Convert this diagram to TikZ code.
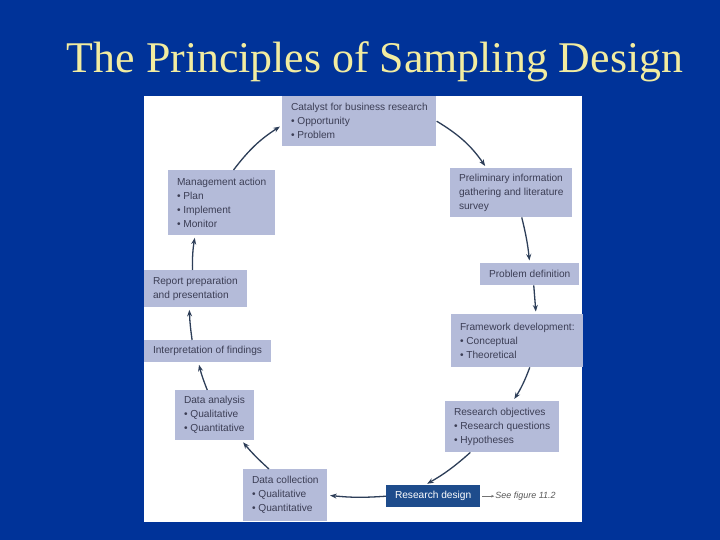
\documentclass[tikz,border=0pt]{standalone}
\usepackage{fontspec}
\setmainfont{Liberation Serif}
\setsansfont{Liberation Sans}
\usepackage{xcolor}
\usepackage{tikz}
\usetikzlibrary{arrows.meta, positioning}

\definecolor{slideblue}{RGB}{0,51,153}
\definecolor{titleyellow}{RGB}{242,236,160}
\definecolor{stagefill}{RGB}{180,187,217}
\definecolor{stagetext}{RGB}{60,62,85}
\definecolor{designfill}{RGB}{30,76,140}
\definecolor{flowline}{RGB}{45,62,88}

\begin{document}
\begin{tikzpicture}[
    x=1bp, y=-1bp,
    stage/.style={rectangle, fill=stagefill, text=stagetext, anchor=north west, align=left, inner xsep=8.8bp, inner ysep=0pt, font=\sffamily\fontsize{10.2}{14}\selectfont},
    arrow/.style={-{Stealth[length=6.5bp, width=5bp]}, draw=flowline, line width=1.3bp, shorten >=2.5bp},
    seearrow/.style={-{Stealth[length=3bp, width=2.5bp]}, draw=black!55, line width=0.5bp, shorten <=2bp},
    note/.style={font=\sffamily\itshape\fontsize{9}{11}\selectfont, text=black!65, inner sep=1bp}
]
    % Slide and panel
    \fill[slideblue] (0,0) rectangle (720,540);
    \useasboundingbox (0,0) rectangle (720,540);
    \node[anchor=base, text=titleyellow, font=\fontsize{44}{50}\selectfont] (title) at (375,73) {The Principles of Sampling Design};
    \fill[white] (144,96) rectangle (582,522);

    % Right side of the cycle
    \node[stage, minimum height=50bp] (catalyst) at (282,96) {Catalyst for business research\\• Opportunity\\• Problem};
    \node[stage, minimum height=49bp] (prelim) at (450,168) {Preliminary information\\gathering and literature\\survey};
    \node[stage, minimum height=22bp] (probdef) at (480,263) {Problem definition};
    \node[stage, minimum height=53bp] (framework) at (451,314) {Framework development:\\• Conceptual\\• Theoretical};
    \node[stage, minimum height=51bp] (objectives) at (445,401) {Research objectives\\• Research questions\\• Hypotheses};
    \node[stage, fill=designfill, text=white, minimum height=22bp] (design) at (386,485) {Research design};
    \node[note, right=14bp of design] (seefig) {See figure 11.2};

    % Left side of the cycle
    \node[stage, minimum height=52bp] (collection) at (243,469) {Data collection\\• Qualitative\\• Quantitative};
    \node[stage, minimum height=50bp] (analysis) at (175,390) {Data analysis\\• Qualitative\\• Quantitative};
    \node[stage, minimum height=22bp] (interp) at (144,340) {Interpretation of findings};
    \node[stage, minimum height=37bp] (report) at (144,270) {Report preparation\\and presentation};
    \node[stage, minimum height=65bp] (mgmt) at (168,170) {Management action\\• Plan\\• Implement\\• Monitor};

    % Arrows
    \draw[arrow] (catalyst.east) to[bend left=12] (prelim.135);
    \draw[arrow] (prelim.-67) to[bend left=4] (probdef.north);
    \draw[arrow] (probdef.-70) -- (framework.55);
    \draw[arrow] (framework.-65) to[bend left=6] (objectives.67);
    \draw[arrow] (objectives.-141) to[bend left=6] (design.126);
    \draw[arrow] (design.west) to[bend left=5] (collection.east);
    \draw[arrow] (collection.122) to[bend left=4] (analysis.-43);
    \draw[arrow] (analysis.106) to[bend left=4] (interp.-129);
    \draw[arrow] (interp.144) to[bend left=3] (report.-108);
    \draw[arrow] (report.99) to[bend left=5] (mgmt.-129);
    \draw[arrow] (mgmt.70) to[bend left=10] (catalyst.-177);
    \draw[seearrow] (design.east) -- (seefig.west);
\end{tikzpicture}
\end{document}
